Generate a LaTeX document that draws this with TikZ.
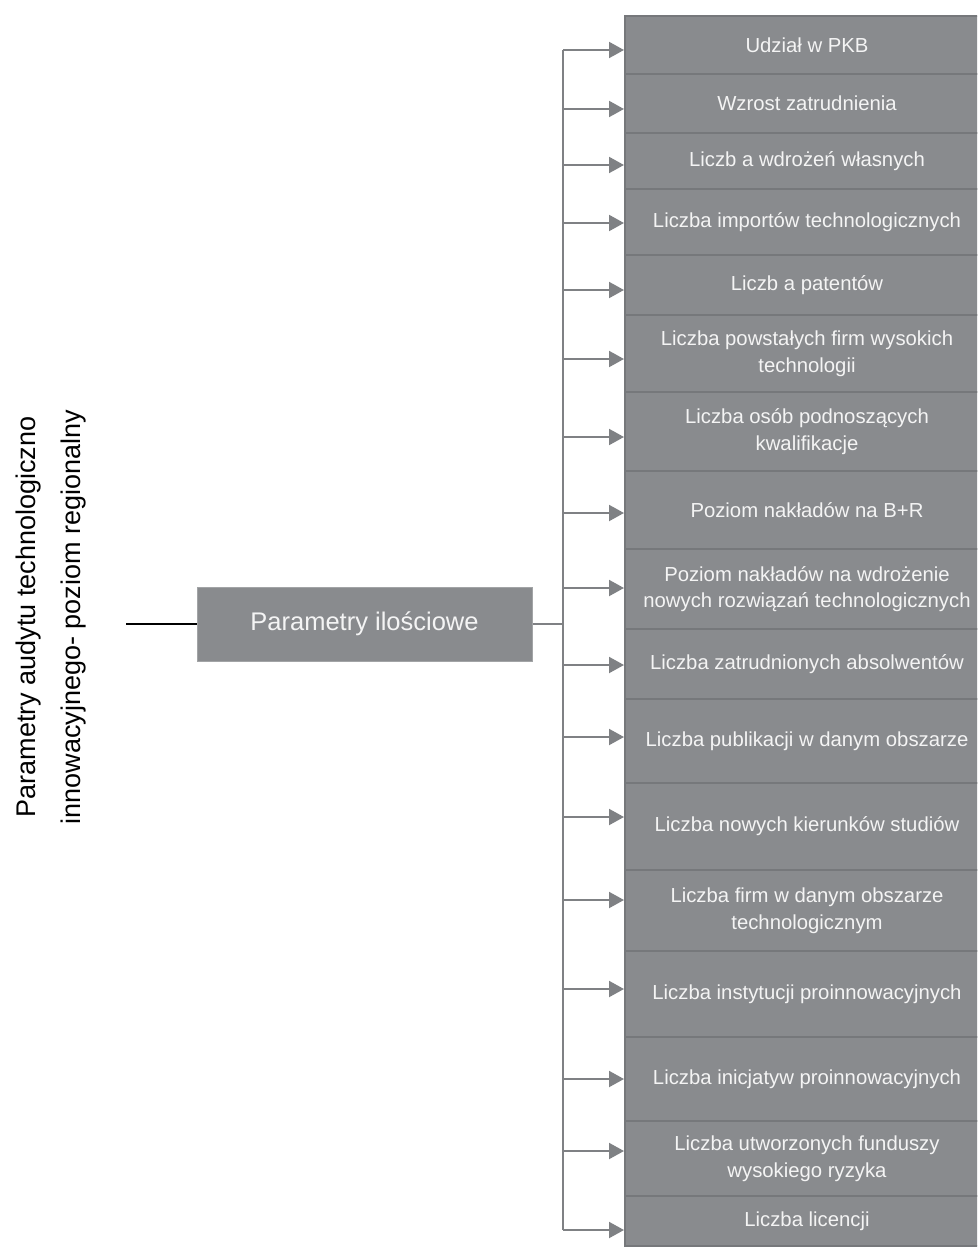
\documentclass[tikz,border=0pt]{standalone}
\usepackage{fontspec}
\setmainfont{Liberation Sans}
\usetikzlibrary{arrows.meta}
\definecolor{boxfill}{HTML}{898B8E}
\definecolor{divline}{HTML}{76787B}
\definecolor{conn}{HTML}{7F8184}
\definecolor{boxtext}{HTML}{F4F4F4}
\definecolor{midborder}{HTML}{A2A4A6}
\begin{document}
\begin{tikzpicture}[x=1pt,y=-1pt,
  item/.style={anchor=north west, fill=boxfill, draw=divline, line width=2pt,
    minimum width=364pt, inner sep=0pt, align=center, text=boxtext,
    font=\fontsize{20.3}{26.5}\selectfont},
  midbox/.style={fill=boxfill, draw=midborder, line width=1pt, minimum width=335pt,
    minimum height=74pt, inner sep=0pt, text=boxtext, font=\fontsize{25.5}{30}\selectfont},
  arr/.style={draw=conn, line width=2pt, -{Triangle[length=15pt,width=16pt]}},
  bus/.style={draw=conn, line width=2.2pt},
  link/.style={draw=conn, line width=1.2pt},
  lead/.style={draw=black, line width=1.5pt},
  title/.style={rotate=90, align=center, font=\fontsize{27}{45}\selectfont}
]
\useasboundingbox (0,0) rectangle (977,1252);
\clip (0,0) rectangle (977,1252);

% column of boxes
\node[item, minimum height=58pt] (b1) at (624,15) {Udział w PKB};
\node[item, minimum height=59pt] (b2) at (624,73) {Wzrost zatrudnienia};
\node[item, minimum height=56pt] (b3) at (624,132) {Liczb a wdrożeń własnych};
\node[item, minimum height=66pt] (b4) at (624,188) {Liczba importów technologicznych};
\node[item, minimum height=60pt] (b5) at (624,254) {Liczb a patentów};
\node[item, minimum height=77pt] (b6) at (624,314) {Liczba powstałych firm wysokich\\technologii};
\node[item, minimum height=79pt] (b7) at (624,391) {Liczba osób podnoszących\\kwalifikacje};
\node[item, minimum height=78pt] (b8) at (624,470) {Poziom nakładów na B+R};
\node[item, minimum height=80pt] (b9) at (624,548) {Poziom nakładów na wdrożenie\\nowych rozwiązań technologicznych};
\node[item, minimum height=70pt] (b10) at (624,628) {Liczba zatrudnionych absolwentów};
\node[item, minimum height=84pt] (b11) at (624,698) {Liczba publikacji w danym obszarze};
\node[item, minimum height=87pt] (b12) at (624,782) {Liczba nowych kierunków studiów};
\node[item, minimum height=81pt] (b13) at (624,869) {Liczba firm w danym obszarze\\technologicznym};
\node[item, minimum height=86pt] (b14) at (624,950) {Liczba instytucji proinnowacyjnych};
\node[item, minimum height=84pt] (b15) at (624,1036) {Liczba inicjatyw proinnowacyjnych};
\node[item, minimum height=75pt] (b16) at (624,1120) {Liczba utworzonych funduszy\\wysokiego ryzyka};
\node[item, minimum height=50pt] (b17) at (624,1195) {Liczba licencji};

% middle box and title
\node[midbox] (mid) at (364.5,624) {Parametry ilościowe};
\node[title] (ttl) at (51,617) {Parametry audytu technologiczno\\innowacyjnego- poziom regionalny};

% bus coordinates
\coordinate (t1) at (563,50);
\coordinate (t2) at (563,109);
\coordinate (t3) at (563,165);
\coordinate (t4) at (563,223);
\coordinate (t5) at (563,290);
\coordinate (t6) at (563,359);
\coordinate (t7) at (563,437);
\coordinate (t8) at (563,513);
\coordinate (t9) at (563,588);
\coordinate (t10) at (563,665);
\coordinate (t11) at (563,737);
\coordinate (t12) at (563,817);
\coordinate (t13) at (563,900);
\coordinate (t14) at (563,989);
\coordinate (t15) at (563,1079);
\coordinate (t16) at (563,1151);
\coordinate (t17) at (563,1230);
\coordinate (lft) at (126,624);

\draw[bus] (t1) -- (t17);
\foreach \i in {1,...,17} {
  \draw[arr] (t\i) -- (t\i -| b\i.west);
}
\draw[link] (mid.east) -- (mid.east -| t1);
\draw[lead] (lft) -- (mid.west);
\end{tikzpicture}
\end{document}
